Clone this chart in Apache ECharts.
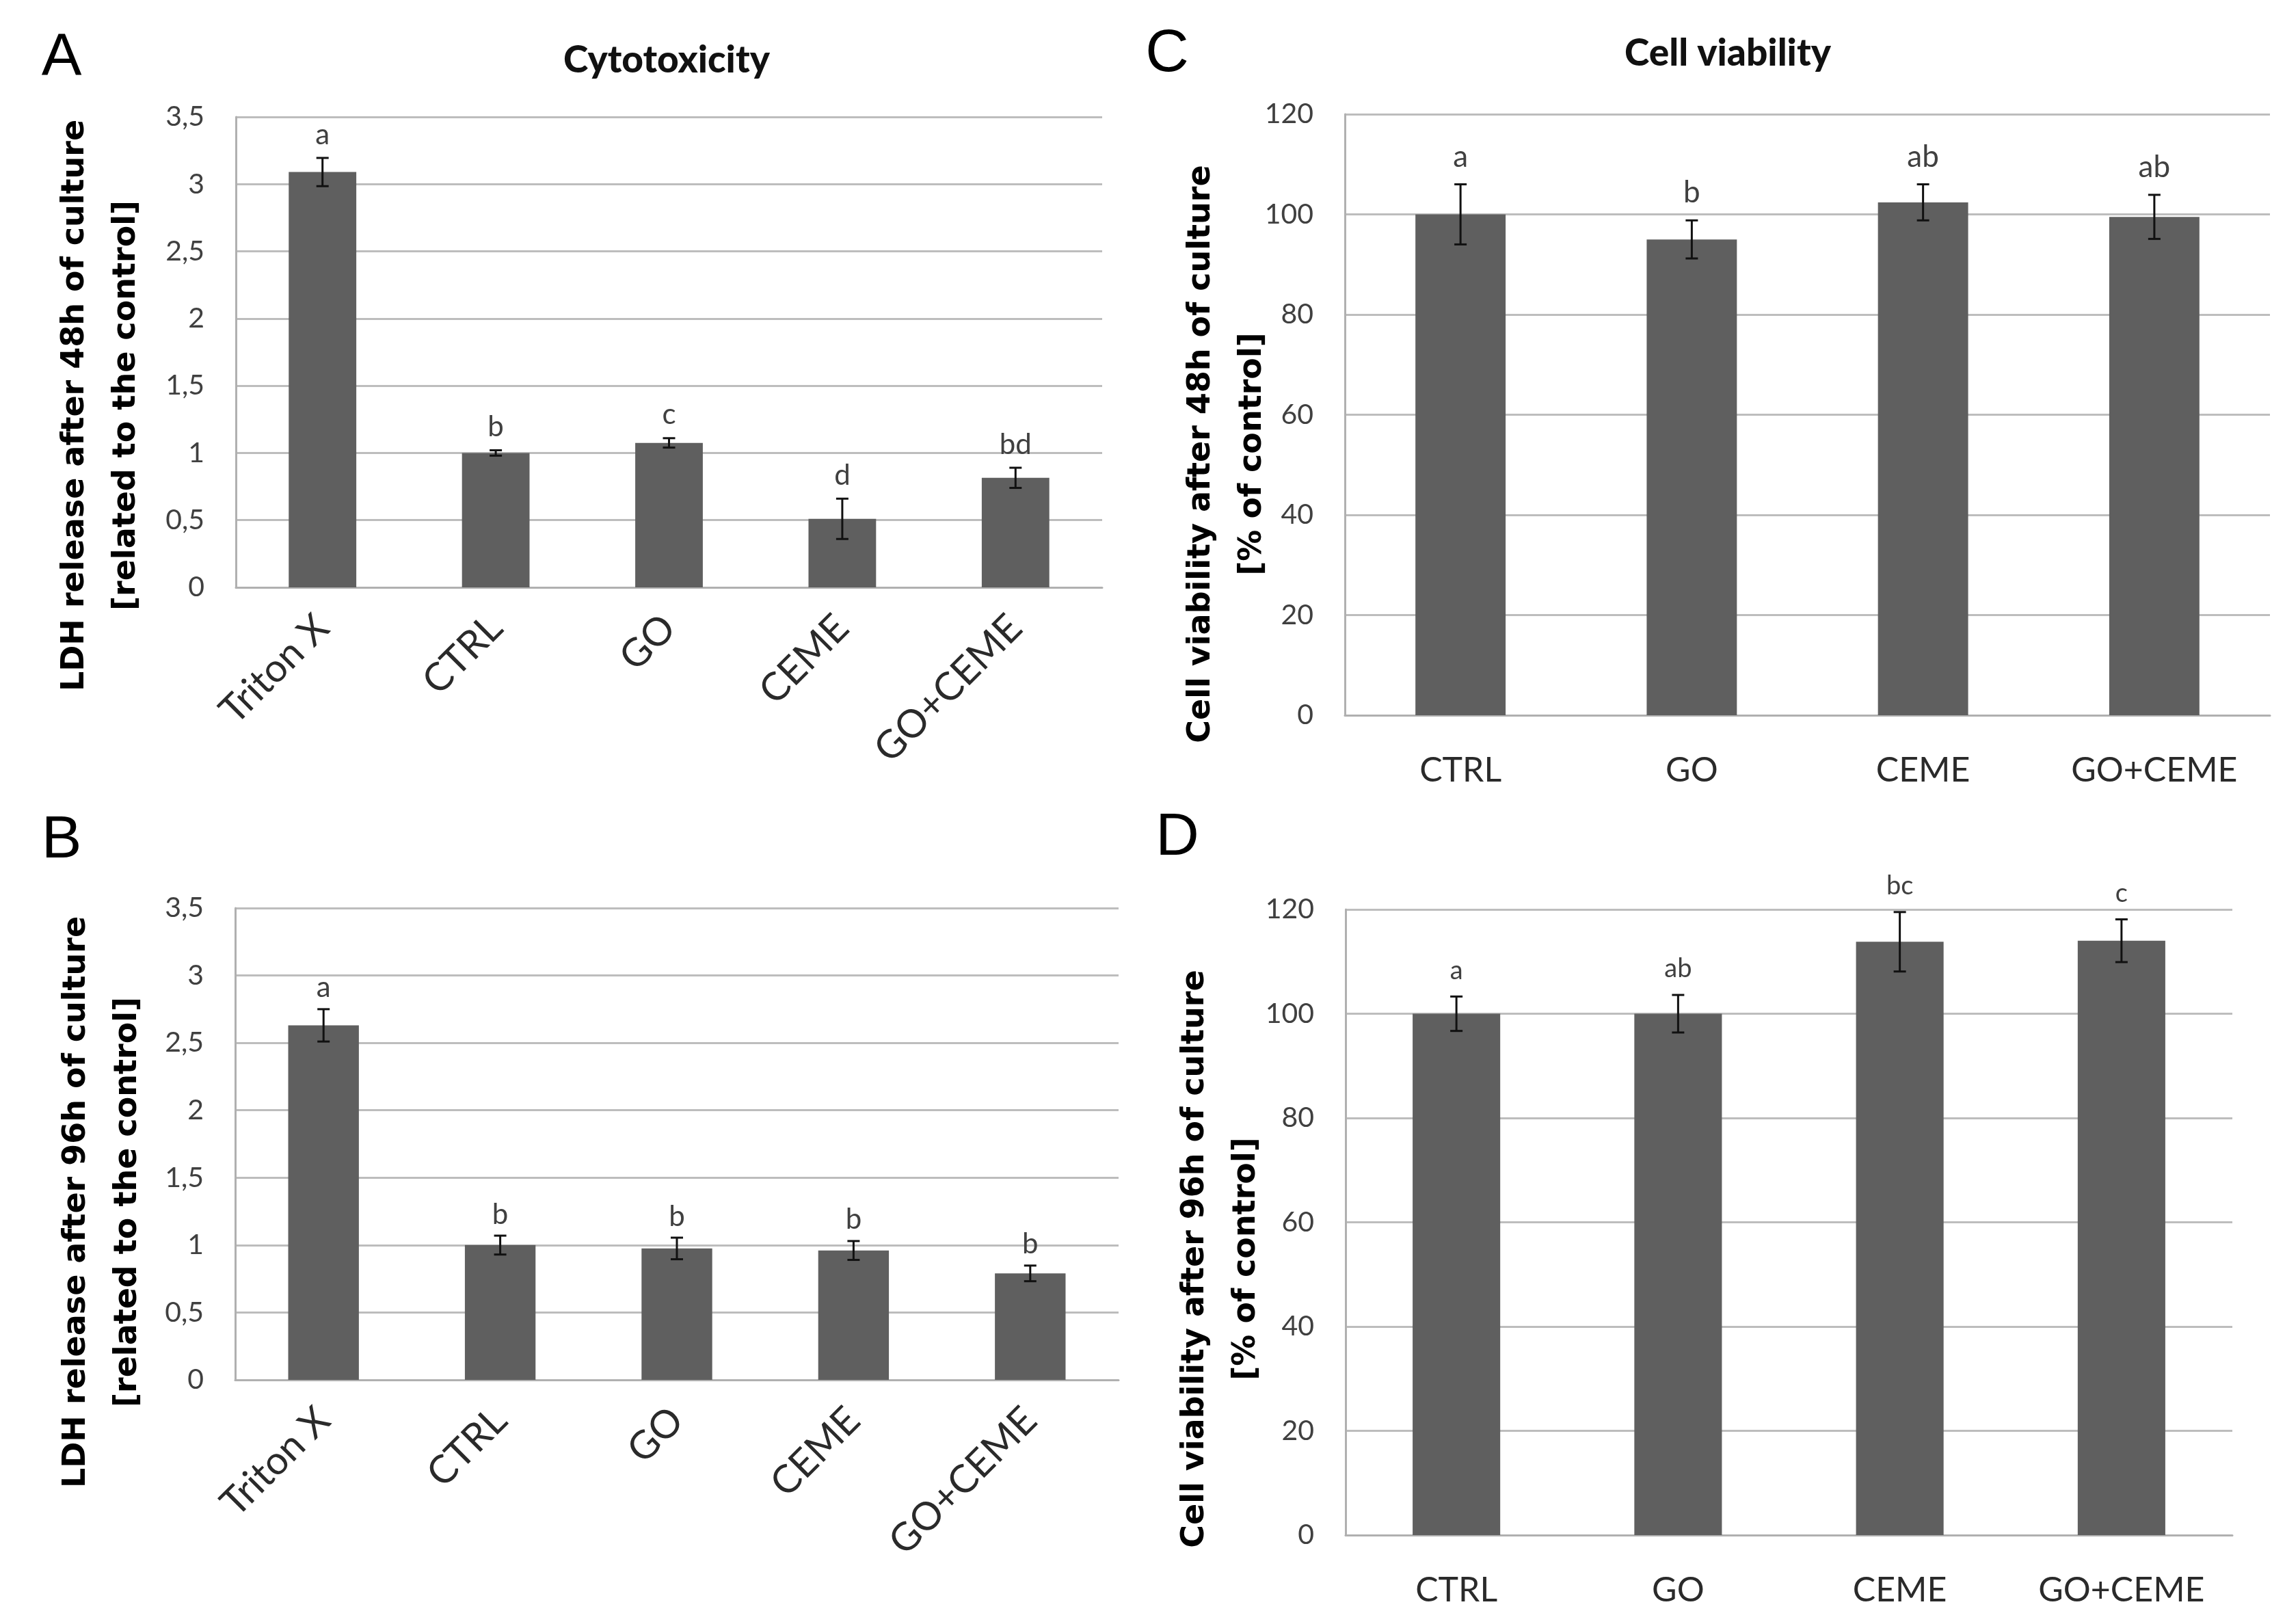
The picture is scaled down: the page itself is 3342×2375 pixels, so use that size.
<!DOCTYPE html>
<html>
<head>
<meta charset="utf-8">
<script src="https://cdn.jsdelivr.net/npm/echarts@6/dist/echarts.min.js"></script>
<style>
  html, body { margin: 0; padding: 0; background: #ffffff; }
  #chart { width: 3342px; height: 2375px; }
</style>
</head>
<body>
<div id="chart"></div>
<script>
// ---------------- data ----------------
const catsLDH = ['Triton X', 'CTRL', 'GO', 'CEME', 'GO+CEME'];
const catsViab = ['CTRL', 'GO', 'CEME', 'GO+CEME'];

const ldh48 = [3.09, 1.00, 1.075, 0.51, 0.815];
const ldh48Err = [0.105, 0.02, 0.035, 0.15, 0.075];
const ldh48Sig = ['a', 'b', 'c', 'd', 'bd'];

const ldh96 = [2.63, 1.00, 0.975, 0.96, 0.79];
const ldh96Err = [0.12, 0.07, 0.08, 0.07, 0.058];
const ldh96Sig = ['a', 'b', 'b', 'b', 'b'];

const viab48 = [100, 95, 102.4, 99.5];
const viab48Err = [6, 3.8, 3.6, 4.4];
const viab48Sig = ['a', 'b', 'ab', 'ab'];

const viab96 = [100, 100, 113.8, 114.0];
const viab96Err = [3.3, 3.6, 5.7, 4.1];
const viab96Sig = ['a', 'ab', 'bc', 'c'];

const panelLetters = ['A', 'B', 'C', 'D'];
const panelTitles = ['Cytotoxicity', 'Cell viability'];
const yTitles = [
  'LDH release after 48h of culture\n[related to the control]',
  'LDH release after 96h of culture\n[related to the control]',
  'Cell viability after 48h of culture\n[% of control]',
  'Cell viability after 96h of culture\n[% of control]'
];

// ---------------- style ----------------
const BAR = '#5f5f5f';
const GRID = '#bdbdbd';
const AXIS = '#b0b0b0';
const TICK_FONT = 'Lato';
const TXT = '#404040';

const grids = [
  { left: 345, top: 171, width: 1612 - 345, height: 859 - 171 },   // A
  { left: 344, top: 1328, width: 1636 - 344, height: 2018 - 1328 }, // B
  { left: 1967, top: 167, width: 3320 - 1967, height: 1046 - 167 }, // C
  { left: 1968, top: 1330, width: 3265 - 1968, height: 2245 - 1330 } // D
];

function xAxisFor(idx, cats, rotated) {
  return {
    type: 'category', gridIndex: idx, data: cats,
    axisLine: { show: true, lineStyle: { color: AXIS, width: 3 } },
    axisTick: { show: false },
    axisLabel: rotated ? {
      interval: 0, rotate: 45, margin: 50,
      fontFamily: TICK_FONT, fontSize: 57, color: '#2a2a2a'
    } : {
      interval: 0, margin: 56,
      fontFamily: TICK_FONT, fontSize: 50, color: '#2a2a2a'
    }
  };
}
function yAxisFor(idx, max, interval, comma) {
  return {
    type: 'value', gridIndex: idx, min: 0, max: max, interval: interval,
    axisLine: { show: true, lineStyle: { color: AXIS, width: 3 } },
    axisTick: { show: false },
    splitLine: { show: true, lineStyle: { color: GRID, width: 3 } },
    axisLabel: {
      margin: 46, fontFamily: TICK_FONT, fontSize: 41, color: TXT,
      formatter: v => comma ? String(+v.toFixed(2)).replace('.', ',') : String(v)
    }
  };
}

function barSeries(idx, vals, bw) {
  return {
    type: 'bar', xAxisIndex: idx, yAxisIndex: idx, data: vals,
    barWidth: bw, itemStyle: { color: BAR }, silent: true, z: 2
  };
}

function errSeries(idx, vals, errs, sigs, capHalf, lw, off, fs) {
  return {
    type: 'custom', xAxisIndex: idx, yAxisIndex: idx, clip: false, z: 5, silent: true,
    data: vals.map((v, i) => [i, v, errs[i]]),
    renderItem: function (params, api) {
      const i = api.value(0), v = api.value(1), e = api.value(2);
      const top = api.coord([i, v + e]);
      const bot = api.coord([i, v - e]);
      const x = top[0];
      return {
        type: 'group',
        children: [
          { type: 'line', shape: { x1: x, y1: top[1], x2: x, y2: bot[1] }, style: { stroke: '#111', lineWidth: lw } },
          { type: 'line', shape: { x1: x - capHalf, y1: top[1], x2: x + capHalf, y2: top[1] }, style: { stroke: '#111', lineWidth: lw } },
          { type: 'line', shape: { x1: x - capHalf, y1: bot[1], x2: x + capHalf, y2: bot[1] }, style: { stroke: '#111', lineWidth: lw } },
          { type: 'text', style: {
              text: sigs[params.dataIndex], x: x, y: top[1] - off,
              align: 'center', verticalAlign: 'middle', textAlign: 'center', textVerticalAlign: 'middle',
              fontFamily: TICK_FONT, fontSize: fs, fill: TXT
          } }
        ]
      };
    }
  };
}

function label(text, x, y, opts) {
  return Object.assign({
    type: 'text', x: x, y: y, silent: true,
    style: Object.assign({ text: text, align: 'center', verticalAlign: 'middle', fill: '#000' }, opts || {})
  });
}

const graphics = [
  label(panelLetters[0], 90, 86, { fontFamily: 'Liberation Sans', fontSize: 88 }),
  label(panelLetters[1], 90, 1230, { fontFamily: 'Liberation Sans', fontSize: 88 }),
  label(panelLetters[2], 1707, 80, { fontFamily: 'Liberation Sans', fontSize: 88 }),
  label(panelLetters[3], 1722, 1226, { fontFamily: 'Liberation Sans', fontSize: 88 }),
  label(panelTitles[0], 975, 88, { fontFamily: 'Lato', fontWeight: 900, fontSize: 55, fill: '#111' }),
  label(panelTitles[1], 2527, 78, { fontFamily: 'Lato', fontWeight: 900, fontSize: 55, fill: '#111' })
];
const yTitlePos = [[148, 593], [150, 1758], [1795, 664], [1786, 1841]];
yTitles.forEach((t, k) => {
  graphics.push({
    type: 'text', x: yTitlePos[k][0], y: yTitlePos[k][1], rotation: Math.PI / 2, silent: true,
    style: { text: t, align: 'center', verticalAlign: 'middle', fontFamily: 'DejaVu Sans', fontWeight: 'bold',
             fontSize: 46, lineHeight: 75, fill: '#000' }
  });
});

const chart = echarts.init(document.getElementById('chart'), null, { renderer: 'canvas' });
chart.setOption({
  animation: false,
  backgroundColor: '#ffffff',
  grid: grids,
  xAxis: [
    xAxisFor(0, catsLDH, true),
    xAxisFor(1, catsLDH, true),
    xAxisFor(2, catsViab, false),
    xAxisFor(3, catsViab, false)
  ],
  yAxis: [
    yAxisFor(0, 3.5, 0.5, true),
    yAxisFor(1, 3.5, 0.5, true),
    yAxisFor(2, 120, 20, false),
    yAxisFor(3, 120, 20, false)
  ],
  series: [
    barSeries(0, ldh48, '39%'),
    barSeries(1, ldh96, '40%'),
    barSeries(2, viab48, '39%'),
    barSeries(3, viab96, '39.5%'),
    errSeries(0, ldh48, ldh48Err, ldh48Sig, 9, 3, 34, 42),
    errSeries(1, ldh96, ldh96Err, ldh96Sig, 9, 3, 31, 42),
    errSeries(2, viab48, viab48Err, viab48Sig, 9, 3, 40, 44),
    errSeries(3, viab96, viab96Err, viab96Sig, 9, 3, 38, 38)
  ],
  graphic: graphics
});
</script>
</body>
</html>
